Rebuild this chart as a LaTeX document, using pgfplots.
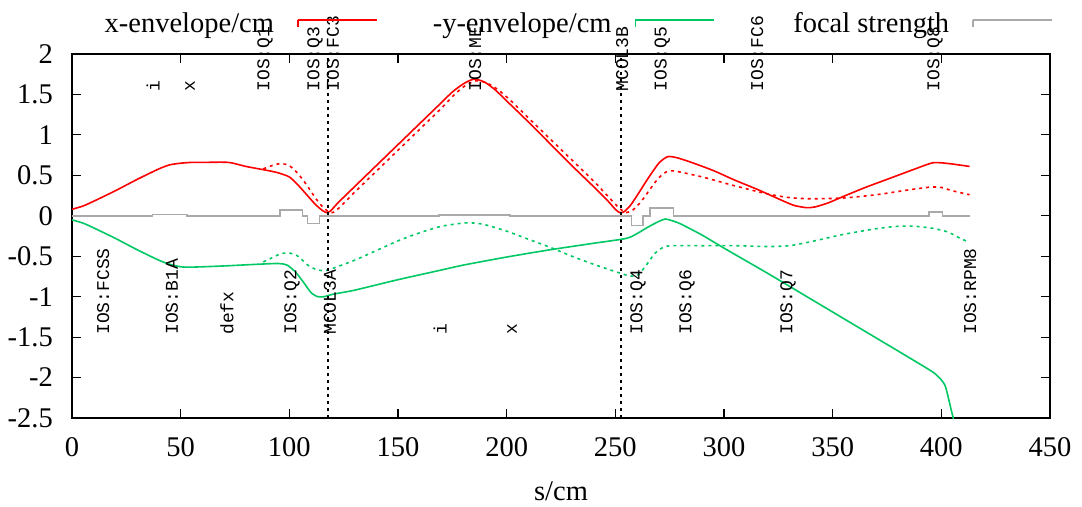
\documentclass[border=0pt]{standalone}
\usepackage{fontspec}
\setmainfont{Liberation Serif}
\setmonofont{Liberation Mono}
\usepackage{pgfplots}
\pgfplotsset{compat=1.18}
\definecolor{envred}{RGB}{255,0,0}
\definecolor{envgreen}{RGB}{0,200,100}
\definecolor{focgray}{RGB}{170,170,170}
\pgfplotsset{
  mylegline/.style={legend image code/.code={\path (0pt,-3.4pt) rectangle (0pt,3.4pt);\draw[##1] (0pt,3.4pt) -- (79pt,3.4pt);}},
}
\begin{document}
\begin{tikzpicture}
\begin{axis}[
  name=ax,
  scale only axis,
  width=978pt, height=364pt,
  xmin=0, xmax=450, ymin=-2.5, ymax=2,
  xtick={0,50,...,450},
  ytick={-2.5,-2,-1.5,-1,-0.5,0,0.5,1,1.5,2},
  tick align=inside,
  major tick length=9pt,
  tick style={line width=1.2pt, black},
  axis line style={line width=2.4pt},
  clip mode=individual,
  /pgf/number format/assume math mode=true,
  tick label style={font=\fontsize{28.5}{30}\selectfont, inner sep=0pt},
  yticklabel style={xshift=-19pt},
  xticklabel style={yshift=-19pt},
  xlabel={s/cm},
  xlabel style={font=\fontsize{28.5}{30}\selectfont, at={(axis description cs:0.5,0)}, anchor=base, yshift=-82pt, inner sep=0pt},
  legend columns=3,
  legend plot pos=right,
  legend style={at={(axis description cs:0,1)}, anchor=west, xshift=-9pt, yshift=30.6pt,
    draw=none, fill=none, inner sep=0pt, outer sep=0pt, column sep=23pt,
    font=\fontsize{28.5}{30}\selectfont, nodes={inner sep=0pt}},
  mylegline,
]
% x-envelope solid
\addplot[envred, line width=1.6pt, smooth, tension=0.4] coordinates {
(0,0.08)(5,0.12)(10,0.18)(20,0.31)(30,0.45)(40,0.58)(45,0.63)(50,0.65)(55,0.66)(60,0.66)(72,0.66)
(80,0.61)(90,0.56)(95,0.53)(100,0.48)(104,0.38)(108,0.26)(112,0.14)(115,0.07)(117,0.04)(119,0.06)(122,0.15)
(130,0.36)(140,0.62)(150,0.88)(160,1.14)(170,1.40)(175,1.53)(180,1.63)(185,1.69)(190,1.65)(195,1.55)(200,1.42)
(210,1.16)(220,0.89)(230,0.62)(240,0.36)(246,0.2)(250,0.08)(252,0.04)(254,0.05)(257,0.13)(260,0.25)(265,0.46)
(270,0.65)(274,0.73)(278,0.72)(285,0.66)(295,0.56)(305,0.44)(315,0.33)(325,0.21)(332,0.13)(338,0.1)(342,0.11)
(348,0.16)(355,0.24)(365,0.35)(375,0.45)(385,0.55)(392,0.62)(396,0.655)(400,0.655)(405,0.64)(413,0.61)};
\addlegendentry{\makebox[211pt][r]{x-envelope/cm}}
% -y-envelope solid
\addplot[envgreen, line width=1.6pt, smooth, tension=0.4] coordinates {
(0,-0.05)(5,-0.09)(10,-0.15)(20,-0.28)(30,-0.42)(40,-0.55)(45,-0.6)(50,-0.63)(55,-0.635)(70,-0.62)(85,-0.6)
(95,-0.59)(99,-0.61)(103,-0.7)(107,-0.84)(110,-0.95)(113,-1.0)(116,-1.0)(120,-0.97)(130,-0.92)(150,-0.79)
(170,-0.67)(180,-0.61)(200,-0.51)(220,-0.42)(240,-0.34)(255,-0.28)(260,-0.22)(265,-0.14)(270,-0.07)(273,-0.04)
(276,-0.06)(280,-0.1)(290,-0.24)(300,-0.4)(320,-0.71)(340,-1.03)(360,-1.35)(380,-1.67)(393,-1.88)(397,-1.95)
(400,-2.03)(402,-2.12)(405,-2.45)(408,-2.75)(413,-3.2)};
\addlegendentry{\makebox[211pt][r]{-y-envelope/cm}}
% focal strength
\addplot[focgray, line width=1.6pt] coordinates {
(0,0)(37,0)(37,0.015)(53,0.015)(53,0)(95.7,0)(95.7,0.075)(106,0.075)(106,0)(108.3,0)(108.3,-0.095)
(113.8,-0.095)(113.8,0)(169,0)(169,0.01)(201.6,0.01)(201.6,0)(257.4,0)(257.4,-0.12)(262.6,-0.12)(262.6,0)
(266,0)(266,0.095)(276.7,0.095)(276.7,0)(394.4,0)(394.4,0.05)(400.5,0.05)(400.5,0)(413,0)};
\addlegendentry{\makebox[211pt][r]{focal strength}}
% dotted x
\addplot[envred, line width=1.6pt, dash pattern=on 3pt off 4pt, smooth, tension=0.4, forget plot] coordinates {
(88,0.58)(92,0.62)(96,0.645)(100,0.62)(104,0.52)(108,0.38)(112,0.22)(115,0.12)(118,0.05)(120,0.04)(123,0.1)
(130,0.29)(140,0.55)(150,0.81)(160,1.07)(170,1.33)(176,1.5)(181,1.61)(186,1.67)(191,1.64)(196,1.56)(202,1.42)
(210,1.21)(220,0.95)(230,0.69)(240,0.43)(248,0.2)(252,0.09)(255,0.04)(258,0.07)(262,0.18)(266,0.33)(270,0.47)
(274,0.55)(278,0.55)(290,0.48)(305,0.37)(320,0.27)(330,0.225)(340,0.21)(355,0.22)(370,0.26)(385,0.32)
(395,0.355)(400,0.35)(405,0.31)(413,0.26)};
% dotted y
\addplot[envgreen, line width=1.6pt, dash pattern=on 3pt off 4pt, smooth, tension=0.4, forget plot] coordinates {
(88,-0.57)(92,-0.52)(96,-0.47)(100,-0.46)(104,-0.5)(108,-0.6)(112,-0.66)(116,-0.68)(120,-0.65)(130,-0.55)
(140,-0.43)(150,-0.31)(160,-0.21)(170,-0.13)(180,-0.09)(185,-0.09)(190,-0.11)(200,-0.19)(210,-0.29)(220,-0.39)
(230,-0.5)(240,-0.6)(250,-0.69)(256,-0.74)(260,-0.74)(264,-0.62)(268,-0.47)(272,-0.39)(276,-0.37)(290,-0.37)
(305,-0.37)(320,-0.38)(330,-0.37)(340,-0.32)(355,-0.23)(370,-0.16)(380,-0.13)(388,-0.13)(396,-0.155)
(403,-0.2)(408,-0.27)(413,-0.33)};
% vertical dotted markers
\addplot[black, line width=1.3pt, dash pattern=on 3pt off 4pt, forget plot] coordinates {(117.8,-2.5)(117.8,2)};
\addplot[black, line width=1.3pt, dash pattern=on 3pt off 4pt, forget plot] coordinates {(252.6,-2.5)(252.6,2)};
% element labels
\tikzset{el/.style={rotate=90, anchor=west, inner sep=0pt, font=\ttfamily\fontsize{18}{18}\selectfont}}
\node[el] at (axis cs:37.3,1.534) {i};
\node[el] at (axis cs:54.3,1.534) {x};
\node[el] at (axis cs:88.8,1.534) {IOS:Q1};
\node[el] at (axis cs:111.8,1.534) {IOS:Q3};
\node[el] at (axis cs:120.1,1.534) {IOS:FC3};
\node[el] at (axis cs:185.5,1.534) {IOS:ME};
\node[el] at (axis cs:253.2,1.534) {MCOL3B};
\node[el] at (axis cs:271.6,1.534) {IOS:Q5};
\node[el] at (axis cs:315.3,1.534) {IOS:FC6};
\node[el] at (axis cs:397.1,1.534) {IOS:Q8};
\node[el] at (axis cs:14.3,-1.473) {IOS:FCSS};
\node[el] at (axis cs:46,-1.473) {IOS:B1A};
\node[el] at (axis cs:71.3,-1.473) {defx};
\node[el] at (axis cs:101.2,-1.473) {IOS:Q2};
\node[el] at (axis cs:118.7,-1.473) {MCOL3A};
\node[el] at (axis cs:169.4,-1.473) {i};
\node[el] at (axis cs:202.5,-1.473) {x};
\node[el] at (axis cs:260.5,-1.473) {IOS:Q4};
\node[el] at (axis cs:283,-1.473) {IOS:Q6};
\node[el] at (axis cs:329.5,-1.473) {IOS:Q7};
\node[el] at (axis cs:413.3,-1.473) {IOS:RPM8};
\end{axis}
\pgfresetboundingbox
\path ([shift={(-72pt,-88pt)}]ax.south west) rectangle ([shift={(32pt,54pt)}]ax.north east);
\end{tikzpicture}
\end{document}
